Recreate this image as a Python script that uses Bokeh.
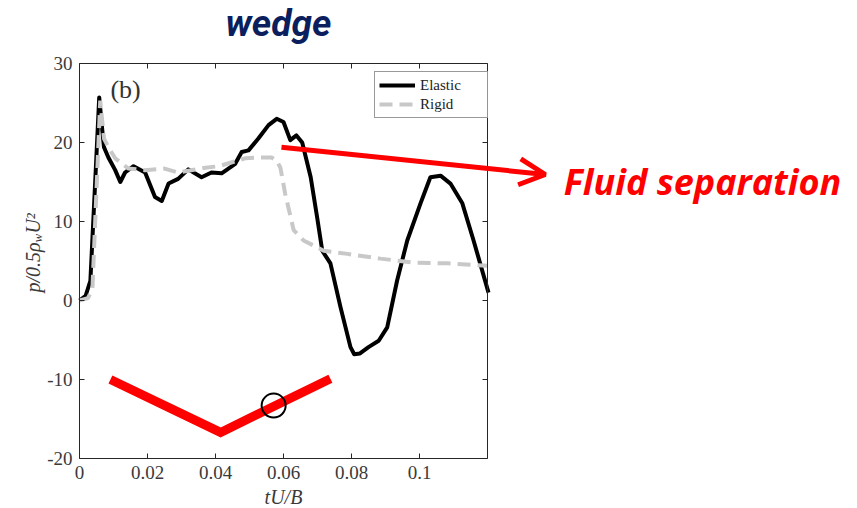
import math
from bokeh.plotting import figure
from bokeh.models import (Range1d, LinearAxis, FixedTicker, Label, Arrow, OpenHead,
                          Legend, LegendItem)
from bokeh.embed import file_html
from bokeh.resources import INLINE

# ---------------- data ----------------
elastic_x = [0, 0.0018, 0.0032, 0.0045, 0.0058, 0.0066, 0.0072, 0.0085, 0.0105, 0.012,
             0.0134, 0.0159, 0.0193, 0.0222, 0.0242, 0.0262, 0.029, 0.032, 0.0359, 0.0388,
             0.0418, 0.0458, 0.0477, 0.0497, 0.0526, 0.0556, 0.058, 0.06, 0.062, 0.0638,
             0.0655, 0.068, 0.0699, 0.0714, 0.0738, 0.0768, 0.0797, 0.0808, 0.0825, 0.085,
             0.088, 0.0905, 0.0934, 0.0964, 0.1003, 0.1032, 0.1062, 0.1091, 0.1126, 0.1159,
             0.1203]
elastic_y = [0, 0.6, 2.5, 14, 25.7, 22, 19.4, 18.1, 16.5, 15,
             16.2, 17, 16.2, 13.1, 12.6, 14.8, 15.4, 16.6, 15.6, 16.2,
             16.1, 17.3, 18.8, 19, 20.5, 22.2, 23, 22.6, 20.3, 20.9,
             20.0, 15.6, 10.5, 6.3, 4.7, -0.9, -5.9, -6.8, -6.7, -5.9,
             -5.1, -3.4, 2.5, 7.6, 12.3, 15.6, 15.8, 14.8, 12.3, 7.6,
             1.0]

rigid_x = [0, 0.0025, 0.0038, 0.005, 0.0061, 0.0072, 0.0085, 0.0105, 0.0144, 0.0193,
           0.025, 0.029, 0.037, 0.041, 0.0487, 0.0526, 0.0565, 0.058, 0.0591, 0.0605,
           0.063, 0.0659, 0.0718, 0.0788, 0.0885, 0.0982, 0.108, 0.12]
rigid_y = [0, 0.3, 1.5, 14, 25.3, 20.5, 19.4, 18.0, 16.7, 16.5,
           16.7, 16.2, 16.8, 17, 18, 18.1, 18.1, 17.7, 16.8, 13.5,
           8.9, 7.6, 6.3, 5.9, 5.3, 4.8, 4.7, 4.4]

x_ticks = [0, 0.02, 0.04, 0.06, 0.08, 0.1]
x_tick_labels = ["0", "0.02", "0.04", "0.06", "0.08", "0.1"]
y_ticks = [-20, -10, 0, 10, 20, 30]
y_tick_labels = ["-20", "-10", "0", "10", "20", "30"]
x_limits = (0, 0.12)
y_limits = (-20, 30)

series_names = ["Elastic", "Rigid"]

# annotation geometry (data units)
v_shape_x = [0.0091, 0.0415, 0.0738]
v_shape_y = [-10.0, -16.7, -9.9]
marker_x = [0.0571]
marker_y = [-13.3]
arrow_start = (0.0594, 19.4)
arrow_end = (0.137, 15.95)

SERIF = "Liberation Serif"
AX = "#262626"
TICK_TXT = "#3a3a3a"

# The plotting frame spans the whole page; the axes box is drawn with
# bounded / fixed-location axes so that annotations outside it are not cut off.
W, H = 857, 508
BOX_L, BOX_R, BOX_T, BOX_B = 79, 487, 63, 458
x_per_px = (x_limits[1] - x_limits[0]) / (BOX_R - BOX_L)
y_per_px = (y_limits[1] - y_limits[0]) / (BOX_B - BOX_T)
x_range = Range1d(x_limits[0] - BOX_L * x_per_px, x_limits[1] + (W - BOX_R) * x_per_px)
y_range = Range1d(y_limits[0] - (H - BOX_B) * y_per_px, y_limits[1] + BOX_T * y_per_px)

p = figure(width=W, height=H, output_backend="svg", toolbar_location=None,
           x_range=x_range, y_range=y_range,
           min_border_left=0, min_border_right=0, min_border_top=0,
           min_border_bottom=0, background_fill_color="white",
           border_fill_color="white")
p.grid.visible = False
p.outline_line_color = None


def style_axis(ax, ticks, labels, bounds, show_labels=True):
    ax.ticker = FixedTicker(ticks=ticks)
    ax.major_label_overrides = {t: l for t, l in zip(ticks, labels)}
    ax.bounds = bounds
    ax.major_tick_in = 5
    ax.major_tick_out = 0
    ax.minor_tick_in = 0
    ax.minor_tick_out = 0
    ax.major_tick_line_color = AX
    ax.axis_line_color = AX
    ax.major_label_text_font = SERIF
    ax.major_label_text_font_size = "19px"
    ax.major_label_text_color = TICK_TXT if show_labels else None
    ax.major_label_standoff = 7


p.xaxis[0].fixed_location = y_limits[0]
style_axis(p.xaxis[0], x_ticks, x_tick_labels, x_limits)
p.yaxis[0].fixed_location = x_limits[0]
style_axis(p.yaxis[0], y_ticks, y_tick_labels, y_limits)

top_ax = LinearAxis(fixed_location=y_limits[1])
style_axis(top_ax, x_ticks, x_tick_labels, x_limits, show_labels=False)
p.add_layout(top_ax, "above")
right_ax = LinearAxis(fixed_location=x_limits[1])
style_axis(right_ax, y_ticks, y_tick_labels, y_limits, show_labels=False)
p.add_layout(right_ax, "right")

# curves
r_el = p.line(elastic_x, elastic_y, line_color="black", line_width=4,
              line_join="round")
r_rg = p.line(rigid_x, rigid_y, line_color="#c8c8c8", line_width=4,
              line_dash="13 7")

legend = Legend(items=[LegendItem(label=series_names[0], renderers=[r_el]),
                       LegendItem(label=series_names[1], renderers=[r_rg])],
                location=(BOX_R - 113, H - 118))
legend.label_text_font = SERIF
legend.label_text_font_size = "15px"
legend.label_text_color = "#222222"
legend.glyph_width = 36
legend.glyph_height = 18
legend.label_height = 18
legend.label_width = 63
legend.label_standoff = 5
legend.spacing = 1
legend.padding = 4
legend.margin = 0
legend.border_line_color = "#333333"
legend.border_line_width = 1
legend.background_fill_color = "white"
p.add_layout(legend)


def add_text(x, y, text, font, size, color, style="normal", align="left",
             angle=0.0, dx=0, dy=0, baseline="alphabetic"):
    p.add_layout(Label(x=x, y=y, x_offset=dx, y_offset=dy, text=text, angle=angle,
                       text_font=font, text_font_size=f"{size}px",
                       text_font_style=style, text_color=color,
                       text_baseline=baseline, text_align=align))


# axis labels
add_text(0.06, -25.5, "tU/B", SERIF, 20, TICK_TXT, style="italic", align="center", dy=5)
ylab_x, ylab_y = -0.0121, 1.0
for txt, size, dx, dy in [("p/0.5ρ", 20, -5, 0), ("w", 13, -1, 50),
                          ("U²", 20, -5, 59)]:
    add_text(ylab_x, ylab_y, txt, SERIF, size, TICK_TXT, style="italic",
             angle=math.pi / 2, dx=dx, dy=dy)

# (b) label
add_text(0.0091, 25.3, "(b)", SERIF, 26, "#333333", dy=11)

# red V annotation and circle
p.line(v_shape_x, v_shape_y, line_color="#ff0000", line_width=9, line_join="miter")
p.scatter(marker_x, marker_y, marker="circle", size=24, fill_color=None,
          line_color="black", line_width=2)

# arrow
p.add_layout(Arrow(x_start=arrow_start[0], y_start=arrow_start[1],
                   x_end=arrow_end[0], y_end=arrow_end[1],
                   line_color="#ff0000", line_width=5,
                   end=OpenHead(size=26, line_color="#ff0000", line_width=5)))

# texts
add_text(0.1424, 13.67, "Fluid separation", "Open Sans", 36, "#ff0000",
         style="bold italic", dy=11)
add_text(0.0585, y_limits[1] + 62 * y_per_px, "wedge", "Roboto", 37, "#0b1f5e",
         style="bold italic", align="center", baseline="top")

open("out.html", "w").write(file_html(p, INLINE))
